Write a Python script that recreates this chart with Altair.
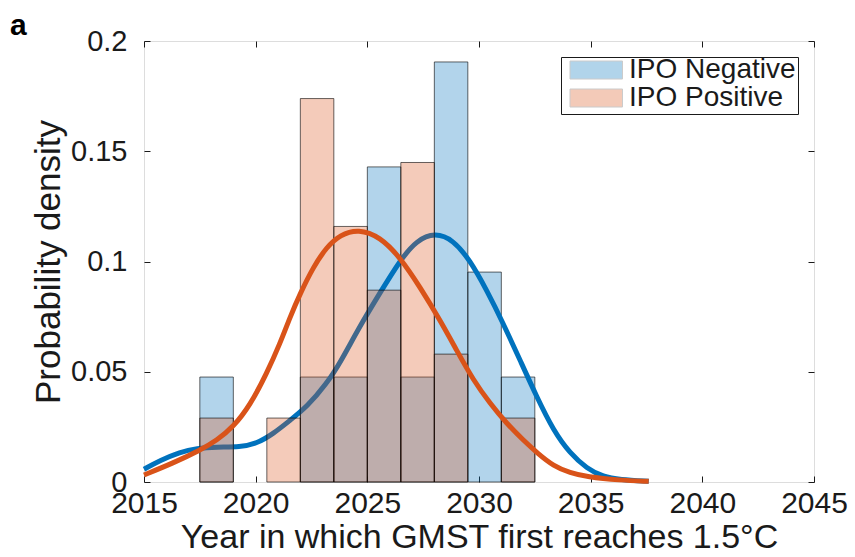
import altair as alt
import pandas as pd

# ---- data ----
bin_start = [2017.5, 2019.0, 2020.5, 2022.0, 2023.5, 2025.0, 2026.5, 2028.0, 2029.5, 2031.0]
bin_width = 1.5
neg_density = [0.0476, 0.0, 0.0, 0.0476, 0.0476, 0.1429, 0.0476, 0.1905, 0.0952, 0.0476]
pos_density = [0.0290, 0.0, 0.0290, 0.1739, 0.1159, 0.0870, 0.1449, 0.0580, 0.0, 0.0290]

neg_curve_x = [2015.0, 2015.72, 2016.61, 2017.36, 2018.26, 2019.3, 2020.05, 2020.79, 2021.54,
               2022.29, 2023.18, 2023.78, 2024.67, 2025.57, 2026.46, 2027.21, 2028.03, 2028.85,
               2029.6, 2030.35, 2031.09, 2031.84, 2032.59, 2033.33, 2034.08, 2034.83, 2035.57,
               2036.3, 2037.6]
neg_curve_y = [0.0058, 0.0098, 0.0136, 0.0153, 0.0159, 0.0159, 0.0174, 0.0219, 0.0280,
               0.0340, 0.0446, 0.0540, 0.0708, 0.0858, 0.1005, 0.1096, 0.1131, 0.1098,
               0.1005, 0.0869, 0.0718, 0.0552, 0.0385, 0.0234, 0.0129, 0.0061, 0.0023,
               0.0011, 0.0003]

pos_curve_x = [2015.0, 2016.31, 2017.51, 2018.26, 2019.0, 2019.75, 2020.49, 2021.09, 2021.54,
               2021.99, 2022.58, 2023.18, 2023.78, 2024.6, 2025.57, 2026.46, 2027.36, 2028.26,
               2029.0, 2029.75, 2030.5, 2031.24, 2031.99, 2032.65, 2033.33, 2034.08, 2034.83,
               2036.3, 2037.6]
pos_curve_y = [0.0032, 0.0086, 0.0144, 0.0189, 0.0250, 0.0348, 0.0492, 0.0628, 0.0748,
               0.0854, 0.0975, 0.1066, 0.1121, 0.1148, 0.1112, 0.1020, 0.0884, 0.0733,
               0.0597, 0.0461, 0.0356, 0.0265, 0.0189, 0.0128, 0.0073, 0.0041, 0.0023,
               0.0008, 0.0003]

x_ticks = [2015, 2020, 2025, 2030, 2035, 2040, 2045]
y_ticks = [0, 0.05, 0.1, 0.15, 0.2]
series = ["IPO Negative", "IPO Positive"]
colors = ["#0072BD", "#D95319"]
panel_label = ["a"]

FONT = "Liberation Sans"
TXT = "#1a1a1a"


def bars_df(dens, name):
    rows = []
    for s, d in zip(bin_start, dens):
        if d > 0:
            rows.append({"start": s, "end": s + bin_width, "density": d,
                         "base": 0.0, "series": name})
    return pd.DataFrame(rows)


neg_df = bars_df(neg_density, series[0])
pos_df = bars_df(pos_density, series[1])
neg_curve = pd.DataFrame({"x": neg_curve_x, "y": neg_curve_y})
pos_curve = pd.DataFrame({"x": pos_curve_x, "y": pos_curve_y})
label_df = pd.DataFrame({"label": panel_label})

xscale = alt.Scale(domain=[2015, 2045], nice=False, zero=False)
yscale = alt.Scale(domain=[0, 0.2], nice=False)
cscale = alt.Scale(domain=series, range=colors)

common_axis = dict(domain=False, grid=False, tickSize=6, offset=-6, tickColor=TXT,
                   tickWidth=1, labelColor=TXT, titleColor=TXT, labelFont=FONT,
                   titleFont=FONT, titleFontWeight="normal")

bottom_axis = alt.Axis(orient="bottom", values=x_ticks, format="d",
                       title="Year in which GMST first reaches 1.5°C",
                       labelFontSize=30, titleFontSize=34, labelPadding=6,
                       titlePadding=2, labelFlush=False, labelOverlap=False,
                       **common_axis)
left_axis = alt.Axis(orient="left", values=y_ticks, format="~g",
                     title="Probability density", labelFontSize=29,
                     titleFontSize=35, labelPadding=17, titlePadding=4,
                     labelFlush=False, **common_axis)
top_axis = alt.Axis(orient="top", values=x_ticks, labels=False, title=None,
                    **common_axis)
right_axis = alt.Axis(orient="right", values=y_ticks, labels=False, title=None,
                      **common_axis)

legend = alt.Legend(
    title=None, orient="none", legendX=417, legendY=16, padding=2,
    fillColor="white", strokeColor="#1a1a1a",
    symbolType="M-0.783,-0.3H0.967V0.3H-0.783Z", symbolSize=3600,
    clipHeight=22, rowPadding=0, labelFontSize=28, labelFont=FONT,
    labelColor=TXT, labelOffset=5, labelLimit=400, symbolStrokeColor="#555555",
    symbolStrokeWidth=1, symbolOpacity=0.3,
)

bar_mark = dict(fillOpacity=0.3, stroke="black", strokeWidth=0.8, strokeOpacity=0.75)

neg_bars = alt.Chart(neg_df).mark_bar(**bar_mark).encode(
    x=alt.X("start:Q", scale=xscale, axis=bottom_axis),
    x2="end:Q",
    y=alt.Y("density:Q", scale=yscale, axis=left_axis),
    y2="base:Q",
    color=alt.Color("series:N", scale=cscale, legend=legend),
)
pos_bars = alt.Chart(pos_df).mark_bar(**bar_mark).encode(
    x=alt.X("start:Q", scale=xscale, axis=None),
    x2="end:Q",
    y=alt.Y("density:Q", scale=yscale, axis=None),
    y2="base:Q",
    color=alt.Color("series:N", scale=cscale, legend=legend),
)
neg_line = alt.Chart(neg_curve).mark_line(
    strokeWidth=5, interpolate="basis", color=colors[0]
).encode(
    x=alt.X("x:Q", scale=xscale, axis=None),
    y=alt.Y("y:Q", scale=yscale, axis=None),
)
pos_line = alt.Chart(pos_curve).mark_line(
    strokeWidth=5, interpolate="basis", color=colors[1]
).encode(
    x=alt.X("x:Q", scale=xscale, axis=None),
    y=alt.Y("y:Q", scale=yscale, axis=None),
)
frame_axes = alt.Chart(neg_curve).mark_point(opacity=0).encode(
    x=alt.X("x:Q", scale=xscale, axis=top_axis),
    y=alt.Y("y:Q", scale=yscale, axis=right_axis),
)
panel = alt.Chart(label_df).mark_text(
    align="left", baseline="alphabetic", fontSize=30, fontWeight="bold",
    font=FONT, color="black", clip=False,
).encode(
    text="label:N",
    x=alt.value(-134),
    y=alt.value(-6),
)

chart = alt.layer(neg_bars, neg_line, pos_bars, pos_line, frame_axes, panel).resolve_axis(
    x="independent", y="independent"
).properties(
    width=670,
    height=441,
    autosize=alt.AutoSizeParams(type="none"),
    padding={"left": 144, "top": 41, "right": 41, "bottom": 75},
).configure_view(stroke="#1a1a1a", strokeWidth=1.2).configure(background="white")

chart.save("out.html", embed_options={"renderer": "svg", "actions": False})
